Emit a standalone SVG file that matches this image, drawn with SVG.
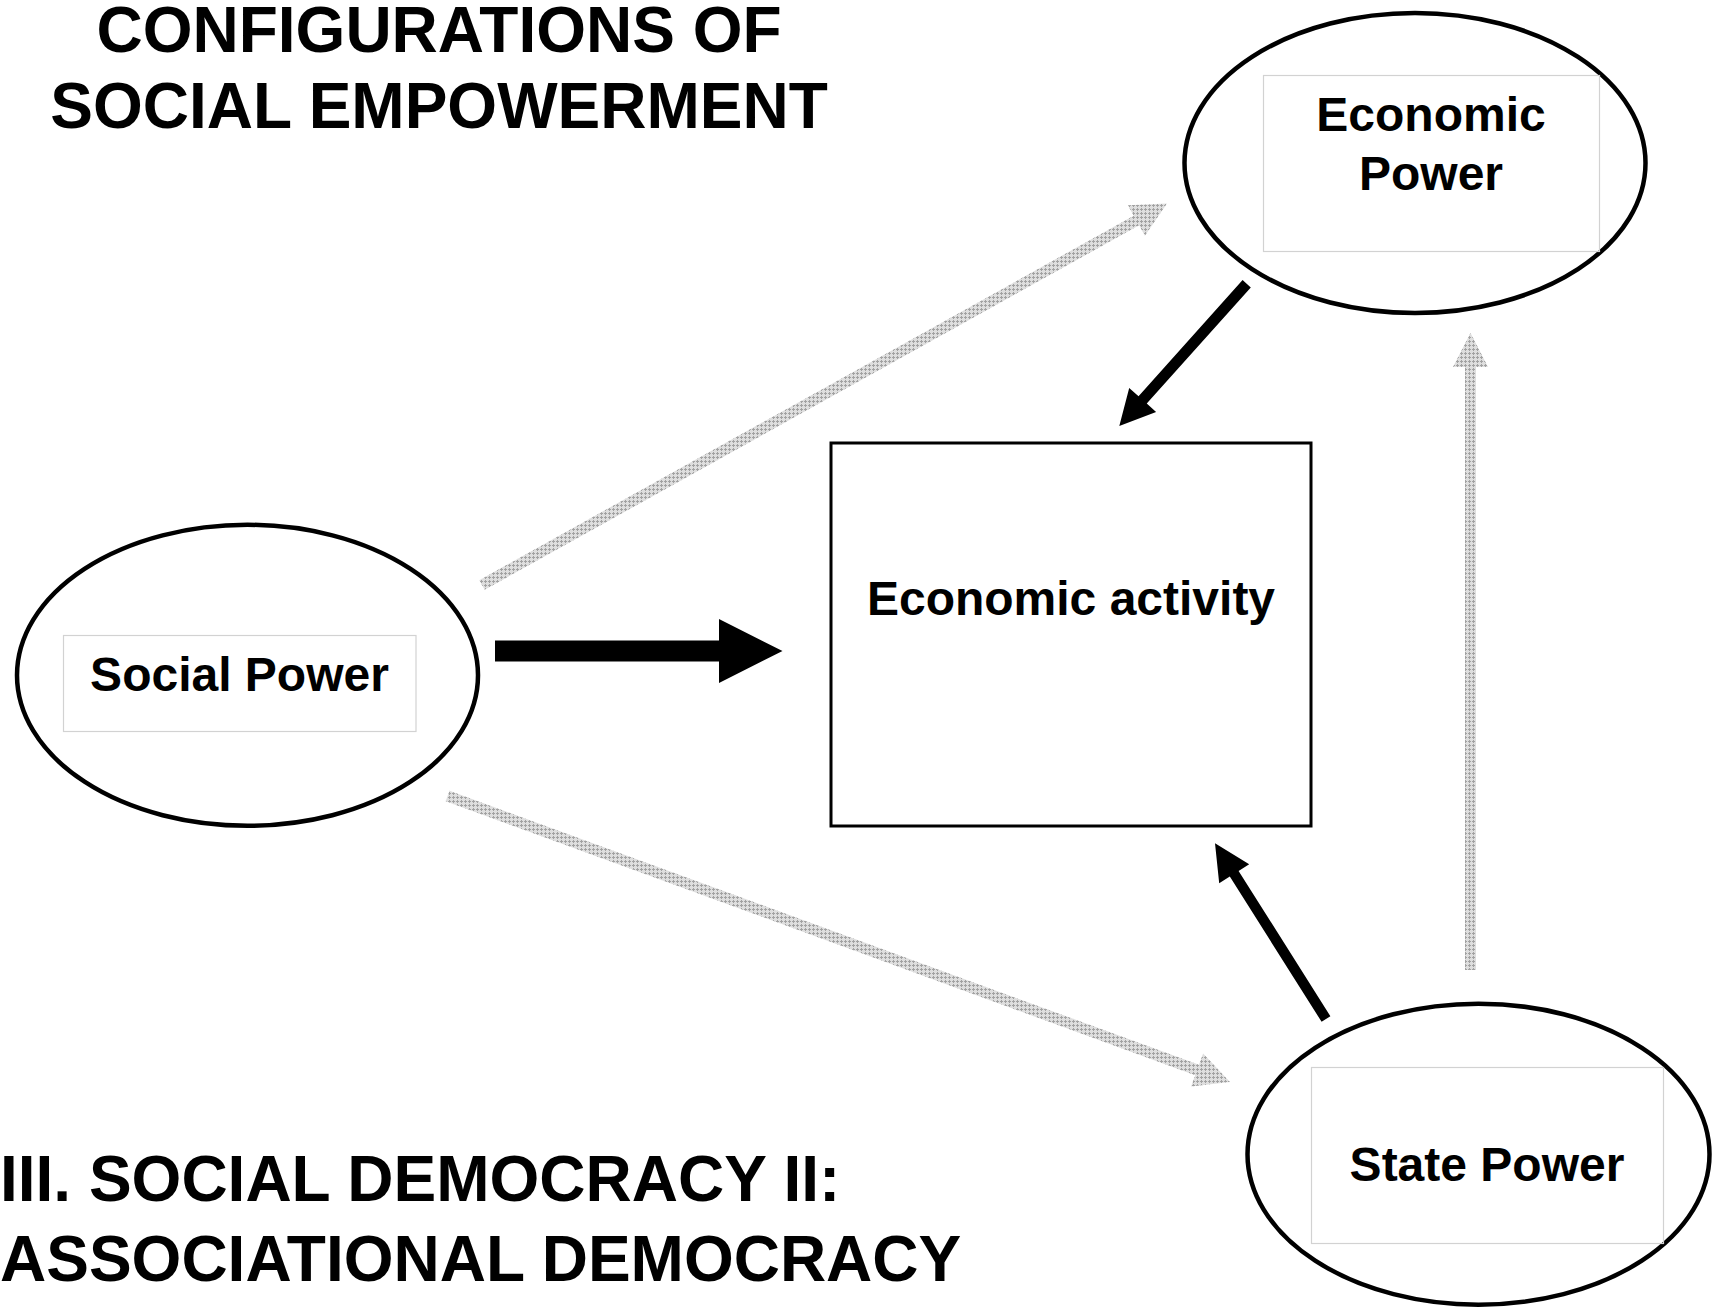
<svg xmlns="http://www.w3.org/2000/svg" width="1716" height="1310" viewBox="0 0 1716 1310">
<style>
.t{font-family:"Liberation Sans",Arial,Helvetica,sans-serif;font-weight:bold;fill:#000}
.title{font-size:64px}
.lbl{font-size:48px;text-anchor:middle}
.oval{fill:#fff;stroke:#000;stroke-width:4.5}
.inner{fill:none;stroke:#d2d2d2;stroke-width:1.2}
.box{fill:#fff;stroke:#000;stroke-width:3}
.blk{fill:#000;stroke:none}
.gry{fill:url(#dither);stroke:none}
</style>
<defs>
<pattern id="dither" patternUnits="userSpaceOnUse" width="4" height="4">
<rect width="4" height="4" fill="#dedede"/>
<rect x="1" y="0" width="1" height="3" fill="#a2a2a2"/>
<rect x="0" y="1" width="3" height="1" fill="#a2a2a2"/>
</pattern>
</defs>
<rect width="1716" height="1310" fill="#fff"/>

<g id="title-top">
<text class="t title" x="439" y="52" text-anchor="middle">CONFIGURATIONS OF</text>
<text class="t title" x="439" y="128" text-anchor="middle">SOCIAL EMPOWERMENT</text>
</g>
<g id="title-bottom">
<text class="t title" x="0" y="1201">III. SOCIAL DEMOCRACY II:</text>
<text class="t title" x="0" y="1281">ASSOCIATIONAL DEMOCRACY</text>
</g>

<g id="connectors">
<polygon class="gry" points="484.7,589.8 1139.1,225.3 1144.9,235.8 1167,203.5 1127.9,205.2 1133.7,215.7 479.3,580.2"/>
<polygon class="gry" points="445.7,801.2 1195.2,1075.2 1191.1,1086.4 1230,1082 1203.1,1053.6 1199,1064.8 449.5,790.8"/>
<polygon class="gry" points="1465,970 1465,367 1453,367 1470.5,333 1488,367 1476,367 1476,970"/>
<polygon class="blk" points="495,640.5 719,640.5 719,619 782.5,651 719,683 719,661.5 495,661.5"/>
<polygon class="blk" points="1250.8,287.4 1146.75,403.6 1156.1,411.9 1119.3,426 1129.2,387.9 1138.55,396.2 1242.6,280"/>
<polygon class="blk" points="1330.4,1016.2 1238.6,870.9 1249.2,864.3 1215,843.3 1219.2,883.2 1229.8,876.5 1321.6,1021.8"/>
</g>

<g id="economic-power">
<ellipse class="oval" cx="1415" cy="163" rx="230.5" ry="150"/>
<rect class="inner" x="1263.5" y="75.5" width="336" height="176"/>
<text class="t lbl" x="1431" y="131">Economic</text>
<text class="t lbl" x="1431" y="189.5">Power</text>
</g>

<g id="social-power">
<ellipse class="oval" cx="247.5" cy="675.3" rx="230.5" ry="150.5"/>
<rect class="inner" x="63.5" y="635.5" width="352.5" height="96"/>
<text class="t lbl" x="239.5" y="691">Social Power</text>
</g>

<g id="economic-activity">
<rect class="box" x="831" y="443" width="480" height="383"/>
<text class="t lbl" x="1071" y="615">Economic activity</text>
</g>

<g id="state-power">
<ellipse class="oval" cx="1478.5" cy="1154.2" rx="231" ry="150.5"/>
<rect class="inner" x="1311.5" y="1067.5" width="352" height="176"/>
<text class="t lbl" x="1487" y="1181">State Power</text>
</g>
</svg>
